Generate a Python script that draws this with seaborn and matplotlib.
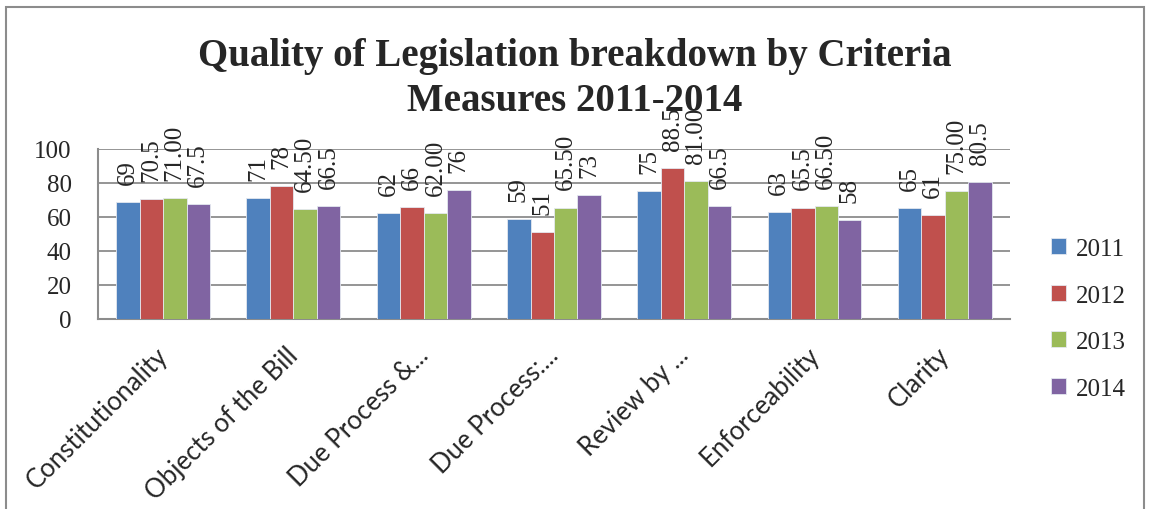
import pandas as pd
import matplotlib.pyplot as plt
import matplotlib.transforms as mtrans
import seaborn as sns
from matplotlib.patches import Rectangle

# 数据
criteria = ['Constitutionality', 'Objects of the Bill', 'Due Process &...', 'Due Process:...',
            'Review by ...', 'Enforceability', 'Clarity']
years = ['2011', '2012', '2013', '2014']
v2011 = [69, 71, 62, 59, 75, 63, 65]
v2012 = [70.5, 78, 66, 51, 88.5, 65.5, 61]
v2013 = [71.00, 64.50, 62.00, 65.50, 81.00, 66.50, 75.00]
v2014 = [67.5, 66.5, 76, 73, 66.5, 58, 80.5]
label_text = {
    '2011': ['69', '71', '62', '59', '75', '63', '65'],
    '2012': ['70.5', '78', '66', '51', '88.5', '65.5', '61'],
    '2013': ['71.00', '64.50', '62.00', '65.50', '81.00', '66.50', '75.00'],
    '2014': ['67.5', '66.5', '76', '73', '66.5', '58', '80.5'],
}
colors = ['#4F81BD', '#C0504D', '#9BBB59', '#8064A2']

df = pd.DataFrame({'criteria': criteria * 4,
                   'year': [y for y in years for _ in criteria],
                   'value': v2011 + v2012 + v2013 + v2014})

sns.set_style('white')
plt.rcParams['font.family'] = ['Liberation Serif', 'DejaVu Serif']

fig = plt.figure(figsize=(11.5, 5.1), dpi=100)
ax = fig.add_axes([0.0852, 0.373, 0.793, 0.333])

sns.barplot(data=df, x='criteria', y='value', hue='year', palette=colors, saturation=1,
            width=0.72, gap=0, edgecolor='#e4e8f0', linewidth=0.6, ax=ax, zorder=3)

# 数据标签
for cont, y in zip(ax.containers, years):
    ax.bar_label(cont, labels=label_text[y], rotation=90, padding=13, fontsize=18)

ax.set_ylim(0, 100)
ax.set_yticks(range(0, 101, 20))
ax.yaxis.grid(True, color='#8c8c8c', linewidth=1.3, zorder=0)
ax.set_xlabel('')
ax.set_ylabel('')
ax.tick_params(axis='y', labelsize=18, length=0, pad=19)
ax.tick_params(axis='x', length=0, pad=8)
ax.set_xticks(range(len(criteria)))
ax.set_xticklabels(criteria, rotation=45, ha='right', rotation_mode='anchor',
                   fontsize=18.5, family=['Lato', 'DejaVu Sans'])
shift = mtrans.ScaledTranslation(-8 / 100, -12 / 100, fig.dpi_scale_trans)
for lab in ax.get_xticklabels():
    lab.set_transform(lab.get_transform() + shift)
for s in ['top', 'right']:
    ax.spines[s].set_visible(False)
for s in ['left', 'bottom']:
    ax.spines[s].set_color('#8c8c8c')
    ax.spines[s].set_linewidth(1.5)

fig.suptitle('Quality of Legislation breakdown by Criteria\nMeasures 2011-2014',
             y=0.925, fontsize=28, fontweight='bold', linespacing=1.26)

leg = ax.legend(loc='center left', bbox_to_anchor=(1.045, 0.0), frameon=False,
                fontsize=18, handlelength=0.6, handleheight=0.6, handletextpad=0.4,
                labelspacing=0.98, borderpad=0, borderaxespad=0)

fig.patches.append(Rectangle((0.005, -0.05), 0.99, 1.034, transform=fig.transFigure,
                             fill=False, edgecolor='#8c8c8c', linewidth=1.5))

plt.savefig('out.png', dpi=100)
